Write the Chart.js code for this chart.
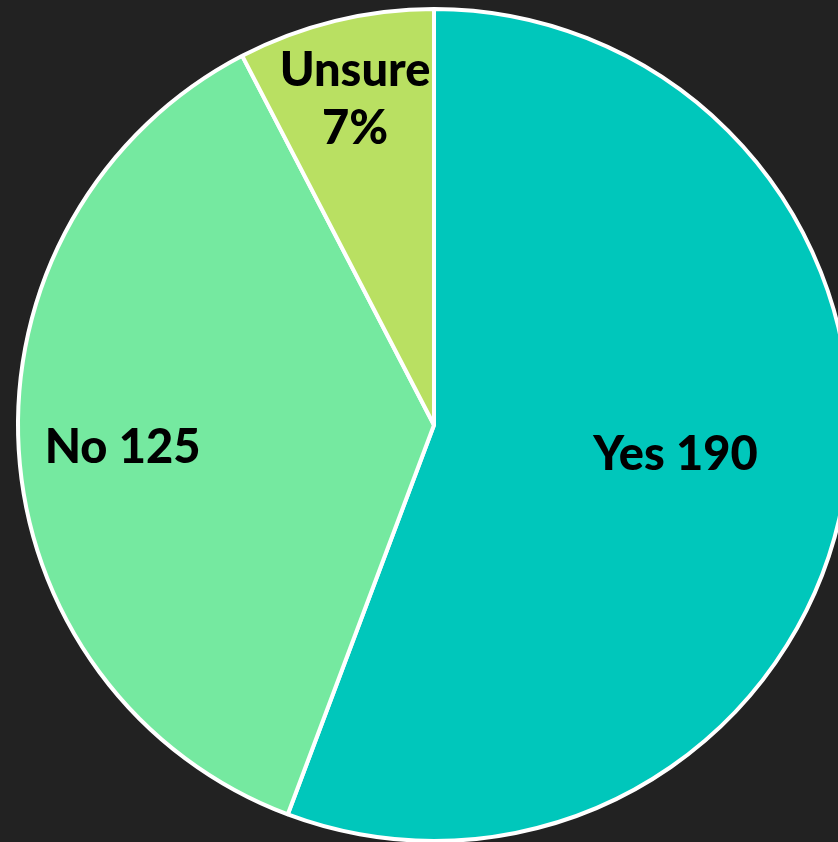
<!DOCTYPE html>
<html>
<head>
<meta charset="utf-8">
<script src="https://cdn.jsdelivr.net/npm/chart.js@4.4.0/dist/chart.umd.min.js"></script>
<style>
  html, body { margin: 0; padding: 0; background: #222222; width: 838px; height: 842px; overflow: hidden; }
  #wrap { position: absolute; left: 0; top: 7px; width: 868px; height: 836px; }
</style>
</head>
<body>
<div id="wrap"><canvas id="c" width="868" height="836"></canvas></div>
<script>
const categories = ["Yes", "No", "Unsure"];
const values = [190, 125, 26];
const labelLines = [["Yes 190"], ["No 125"], ["Unsure", "7%"]];
const sliceColors = ["#00C7BB", "#75E9A0", "#B9E062"];

// label placement: fraction of radius along slice mid-angle, plus pixel nudge
const labelRadius = [0.59, 0.75, 0.8];
const labelNudge = [[0, -14], [0, 4], [0, -2]];

const labelPlugin = {
  id: 'sliceLabels',
  afterDatasetsDraw(chart) {
    const ctx = chart.ctx;
    const meta = chart.getDatasetMeta(0);
    ctx.save();
    ctx.fillStyle = '#000000';
    ctx.font = '900 47px Lato, "DejaVu Sans", sans-serif';
    ctx.textAlign = 'center';
    ctx.textBaseline = 'middle';
    meta.data.forEach((arc, i) => {
      const p = arc.getProps(['x', 'y', 'startAngle', 'endAngle', 'outerRadius'], true);
      const mid = (p.startAngle + p.endAngle) / 2;
      const r = p.outerRadius * labelRadius[i];
      const x = p.x + Math.cos(mid) * r + labelNudge[i][0];
      const y = p.y + Math.sin(mid) * r + labelNudge[i][1];
      const lines = labelLines[i];
      const lh = 58;
      lines.forEach((t, k) => {
        ctx.fillText(t, x, y + (k - (lines.length - 1) / 2) * lh);
      });
    });
    ctx.restore();
  }
};

new Chart(document.getElementById('c'), {
  type: 'pie',
  data: {
    labels: categories,
    datasets: [{
      data: values,
      backgroundColor: sliceColors,
      borderColor: '#FFFFFF',
      borderWidth: 4
    }]
  },
  options: {
    responsive: false,
    animation: false,
    devicePixelRatio: 1,
    layout: { padding: 0 },
    plugins: {
      legend: { display: false },
      tooltip: { enabled: false }
    }
  },
  plugins: [labelPlugin]
});
</script>
</body>
</html>
